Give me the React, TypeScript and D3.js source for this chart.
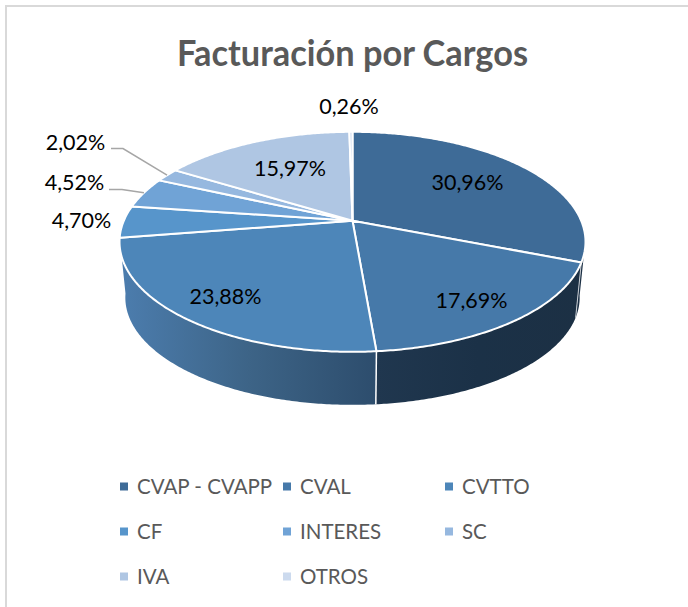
import React from "react";
import * as d3 from "d3";

const categories = ["CVAP - CVAPP", "CVAL", "CVTTO", "CF", "INTERES", "SC", "IVA", "OTROS"];
const percents = [30.96, 17.69, 23.88, 4.7, 4.52, 2.02, 15.97, 0.26];
const labels = ["30,96%", "17,69%", "23,88%", "4,70%", "4,52%", "2,02%", "15,97%", "0,26%"];
const colors = ["#3e6b97", "#4679a9", "#4d86b9", "#5795cb", "#70a3d6", "#96b8df", "#afc6e3", "#ccdaee"];
const title = "Facturación por Cargos";

const W = 688, H = 607;
// perspective model of the pie disc
const cx = 352.5, cy = 220.8, rx0 = 228.7, ry0 = 106, k = 0.191;
const depthScale = 0.975, depthShift = 56.3;
const labelPos: [number, number][] = [[467.5, 182], [471.5, 300], [225.5, 296], [81.5, 220], [74.5, 182], [75.5, 142], [290, 168], [349, 106]];
const legendCols = [120, 283, 445], legendRows = [486.5, 531.5, 576.5];

const topPt = (a: number): [number, number] => {
  const X = Math.sin(a), Y = Math.cos(a), f = 1 / (1 + k * Y);
  return [cx + rx0 * X * f, cy - ry0 * Y * f];
};
const botPt = (a: number): [number, number] => {
  const [x, y] = topPt(a);
  return [cx + (x - cx) * depthScale, cy + depthShift + (y - cy) * depthScale];
};
const arcs = d3.pie<number>().sort(null)(percents);
const line = d3.line();
const sample = (a0: number, a1: number) => {
  const n = Math.max(2, Math.ceil(Math.abs(a1 - a0) / 0.01));
  return d3.range(n + 1).map((i) => a0 + ((a1 - a0) * i) / n);
};
const slicePath = (a0: number, a1: number) =>
  line([[cx, cy], ...sample(a0, a1).map(topPt)])! + "Z";
const sidePath = (a0: number, a1: number) =>
  line([...sample(a0, a1).map(topPt), ...sample(a0, a1).reverse().map(botPt)])! + "Z";

const rimStart = (100 * Math.PI) / 180;
const sides = [
  { i: 0, a0: rimStart, a1: arcs[0].endAngle, fill: "#1c3045" },
  { i: 1, a0: arcs[1].startAngle, a1: arcs[1].endAngle, fill: "url(#sideB)" },
  { i: 2, a0: arcs[2].startAngle, a1: arcs[2].endAngle, fill: "url(#sideC)" },
];
const leaders: { from: [number, number]; elbow: [number, number]; to: number; gap: number }[] = [
  { from: [111, 148.5], elbow: [123, 148.5], to: 5, gap: 0.5 },
  { from: [109, 189.5], elbow: [122, 189.5], to: 4, gap: 0.5 },
];

export default function App() {
  const font = "Lato, 'Open Sans', sans-serif";
  return (
    <svg width={W} height={H} viewBox={`0 0 ${W} ${H}`} style={{ position: "absolute", left: 0, top: 0, background: "#fff" }}>
      <defs>
        <linearGradient id="sideC" gradientUnits="userSpaceOnUse" x1={120} x2={376} y1={0} y2={0}>
          <stop offset="0" stopColor="#4c7dae" />
          <stop offset="0.5" stopColor="#3d6487" />
          <stop offset="1" stopColor="#2d4d6d" />
        </linearGradient>
        <linearGradient id="sideB" gradientUnits="userSpaceOnUse" x1={376} x2={580} y1={0} y2={0}>
          <stop offset="0" stopColor="#20374f" />
          <stop offset="0.5" stopColor="#1b3147" />
          <stop offset="1" stopColor="#1c3044" />
        </linearGradient>
      </defs>
      <path d="M6 607V6H688" fill="none" stroke="#d9d9d9" strokeWidth={2} />
      <text x={352.5} y={66} textAnchor="middle" fontFamily={font} fontWeight={700} fontSize={36} textLength={351} lengthAdjust="spacingAndGlyphs" fill="#595959">{title}</text>

      {sides.map((s) => (
        <path key={s.i} d={sidePath(s.a0, s.a1)} fill={s.fill} />
      ))}
      {[arcs[0].endAngle, arcs[1].endAngle].map((a, i) => (
        <path key={i} d={line([topPt(a), botPt(a)])!} stroke={i === 0 ? "#c8cdd3" : "#fff"} strokeWidth={i === 0 ? 1 : 1.5} fill="none" />
      ))}
      {arcs.map((a, i) => (
        <path key={i} d={slicePath(a.startAngle, a.endAngle)} fill={colors[i]} stroke="#fff" strokeWidth={2} strokeLinejoin="round" />
      ))}

      {leaders.map((l, i) => {
        const a = arcs[l.to];
        const mid = a.startAngle + (a.endAngle - a.startAngle) * l.gap;
        return <path key={i} d={line([l.from, l.elbow, topPt(mid)])!} fill="none" stroke="#a6a6a6" strokeWidth={1.5} />;
      })}
      {labels.map((t, i) => (
        <text key={i} x={labelPos[i][0]} y={labelPos[i][1]} dy="0.35em" textAnchor="middle" fontFamily={font} fontSize={21.5} fill="#000">{t}</text>
      ))}

      {categories.map((c, i) => {
        const x = legendCols[i % 3], y = legendRows[Math.floor(i / 3)];
        return (
          <g key={c}>
            <rect x={x} y={y - 4} width={8} height={8} fill={colors[i]} />
            <text x={x + 17} y={y} dy="0.35em" fontFamily={font} fontSize={20.5} fill="#595959">{c}</text>
          </g>
        );
      })}
    </svg>
  );
}
